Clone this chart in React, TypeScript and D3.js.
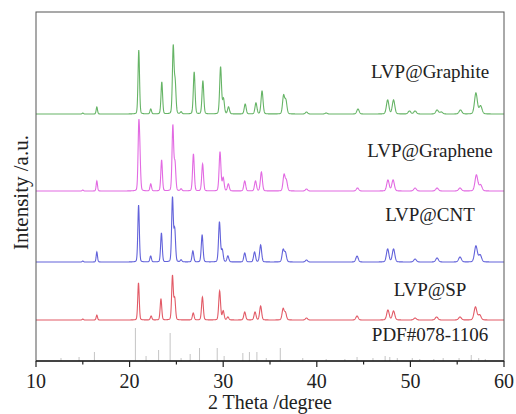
import React from "react";
import * as d3 from "d3";

// ---- data ----
const xTickValues = [10, 20, 30, 40, 50, 60];
const xMinorTicks = [15, 25, 35, 45, 55];

const seriesNames = ["LVP@Graphite", "LVP@Graphene", "LVP@CNT", "LVP@SP"];
const seriesOffsets = [247, 170, 99, 41];
const labelBaselines = [283, 204, 140, 65];

// peak positions (2θ) and heights (a.u.) for each pattern
const graphitePeaks = [15.0, 16.5, 20.98, 22.26, 23.44, 24.66, 24.87, 25.5, 26.9, 27.83, 29.72, 30.03, 30.57, 32.35, 33.5, 34.15, 36.45, 36.7, 38.9, 41.0, 44.4, 47.57, 48.2, 49.9, 50.5, 52.85, 53.3, 55.35, 57.0, 57.5];
const graphiteHeights = [1, 7, 64, 5, 32, 67, 30, 2, 42, 33, 47, 15, 7, 10, 11, 23, 18, 13, 2, 1, 5, 14, 14, 3, 3, 4, 2, 4, 21, 8];

const graphenePeaks = [15.0, 16.5, 20.98, 21.1, 22.26, 23.42, 24.62, 24.85, 25.5, 26.82, 27.8, 29.66, 30.0, 30.55, 32.3, 33.45, 34.08, 36.5, 36.75, 38.9, 44.35, 47.6, 48.15, 50.5, 52.85, 55.3, 57.05, 57.5];
const grapheneHeights = [1, 10, 61, 28, 7, 31, 65, 27, 2, 37, 27, 39, 13, 7, 10, 10, 19, 16, 10, 2, 3, 11, 11, 3, 3, 3, 16, 6];

const cntPeaks = [15.0, 16.5, 20.96, 22.25, 23.4, 24.58, 24.82, 25.5, 26.76, 27.75, 29.6, 29.9, 30.5, 32.3, 33.35, 34.0, 36.4, 36.65, 38.9, 44.3, 47.57, 48.2, 50.5, 52.85, 55.3, 57.0, 57.45];
const cntHeights = [1, 10, 57, 6, 29, 64, 32, 2, 11, 27, 40, 12, 6, 9, 10, 17, 12, 9, 2, 6, 13, 13, 3, 4, 5, 16, 7];

const spPeaks = [15.0, 16.5, 20.95, 22.3, 23.35, 24.58, 24.82, 26.8, 27.78, 29.62, 30.0, 30.5, 32.3, 33.4, 34.0, 36.4, 36.65, 38.9, 44.3, 47.6, 48.2, 50.5, 52.8, 55.3, 56.95, 57.4];
const spHeights = [1, 5, 37, 4, 21, 44, 21, 7, 23, 29, 9, 3, 8, 8, 14, 11, 7, 2, 4, 10, 9, 2, 3, 3, 13, 5];

const pdfPositions = [12.67, 14.6, 16.24, 20.62, 21.76, 23.1, 24.33, 25.5, 26.47, 27.47, 29.36, 30.1, 32.1, 32.8, 33.6, 34.6, 36.1, 38.5, 41.0, 43.0, 44.3, 46.0, 47.3, 47.8, 48.6, 50.2, 51.0, 52.5, 53.5, 55.2, 56.5, 57.3, 58.0];
const pdfHeights = [3, 4, 9, 33, 5, 11, 28, 3, 7, 13, 13, 5, 8, 9, 9, 3, 13, 3, 2, 2, 4, 3, 5, 4, 3, 3, 2, 2, 3, 3, 6, 3, 2];

const seriesPeaks = [graphitePeaks, graphenePeaks, cntPeaks, spPeaks];
const seriesHeights = [graphiteHeights, grapheneHeights, cntHeights, spHeights];
const seriesColors = ["#66b466", "#e26ae2", "#6262da", "#e25a66"];

const pdfLabel = "PDF#078-1106";
const pdfLabelBaseline = 20;
const labelCenter = 52.1;

// ---- layout ----
const W = 516;
const H = 414;
const M = { left: 36, right: 504, top: 12, bottom: 361 };

const x = d3.scaleLinear().domain([10, 60]).range([M.left, M.right]);
const y = d3.scaleLinear().domain([0, 349]).range([M.bottom, M.top]);

// render a pattern from its peak list (pseudo-Voigt profile for each read-off peak)
function profile(peaks: number[], heights: number[]): [number, number][] {
  const pts: [number, number][] = [];
  for (let t = 10; t <= 60.0001; t += 0.02) {
    let v = 0;
    for (let i = 0; i < peaks.length; i++) {
      const s = 0.08 + 0.002 * (peaks[i] - 20);
      const d = (t - peaks[i]) / s;
      if (Math.abs(d) > 40) continue;
      const g = Math.exp(-0.5 * d * d);
      const l = 1 / (1 + d * d);
      v += heights[i] * (0.8 * g + 0.2 * l);
    }
    pts.push([t, v]);
  }
  return pts;
}

const fontFamily = "'Liberation Serif', 'Times New Roman', serif";

export default function App() {
  const line = d3
    .line<[number, number]>()
    .x((d) => x(d[0]))
    .y((d) => y(d[1]));

  return (
    <svg
      width={W}
      height={H}
      style={{ position: "absolute", left: 0, top: 0, background: "#fff" }}
      fontFamily={fontFamily}
    >
      {/* reference lines */}
      {pdfPositions.map((p, i) => (
        <line
          key={"pdf" + i}
          x1={x(p)}
          x2={x(p)}
          y1={y(0)}
          y2={y(pdfHeights[i])}
          stroke="#c4c4c4"
          strokeWidth={1}
        />
      ))}

      {/* patterns */}
      {seriesPeaks.map((pk, si) => {
        const off = seriesOffsets[si];
        const pts = profile(pk, seriesHeights[si]).map(
          ([t, v]) => [t, v + off] as [number, number]
        );
        return (
          <path
            key={"s" + si}
            d={line(pts) || ""}
            fill="none"
            stroke={seriesColors[si]}
            strokeWidth={1.1}
          />
        );
      })}

      {/* labels */}
      {seriesNames.map((n, i) => (
        <text
          key={"l" + i}
          x={x(labelCenter)}
          y={y(labelBaselines[i])}
          textAnchor="middle"
          fontSize={19}
          fill="#222"
        >
          {n}
        </text>
      ))}
      <text
        x={x(labelCenter)}
        y={y(pdfLabelBaseline)}
        textAnchor="middle"
        fontSize={19}
        fill="#222"
      >
        {pdfLabel}
      </text>

      {/* frame */}
      <rect
        x={M.left}
        y={M.top}
        width={M.right - M.left}
        height={M.bottom - M.top}
        fill="none"
        stroke="#555"
        strokeWidth={1}
      />
      <line x1={M.left} x2={M.right} y1={M.bottom} y2={M.bottom} stroke="#222" strokeWidth={1.5} />

      {/* x ticks */}
      {xTickValues.map((t) => (
        <g key={"t" + t}>
          <line x1={x(t)} x2={x(t)} y1={M.bottom} y2={M.bottom + 6} stroke="#222" strokeWidth={1.2} />
          <text x={x(t)} y={388} textAnchor="middle" fontSize={20} fill="#222">
            {t}
          </text>
        </g>
      ))}
      {xMinorTicks.map((t) => (
        <line key={"m" + t} x1={x(t)} x2={x(t)} y1={M.bottom} y2={M.bottom + 3.5} stroke="#222" strokeWidth={1.2} />
      ))}

      {/* axis titles */}
      <text x={(M.left + M.right) / 2} y={409} textAnchor="middle" fontSize={20} fill="#222">
        2 Theta /degree
      </text>
      <text
        transform={`translate(28, ${(M.top + M.bottom) / 2 + 6}) rotate(-90)`}
        textAnchor="middle"
        fontSize={21}
        fill="#222"
      >
        Intensity /a.u.
      </text>
    </svg>
  );
}
